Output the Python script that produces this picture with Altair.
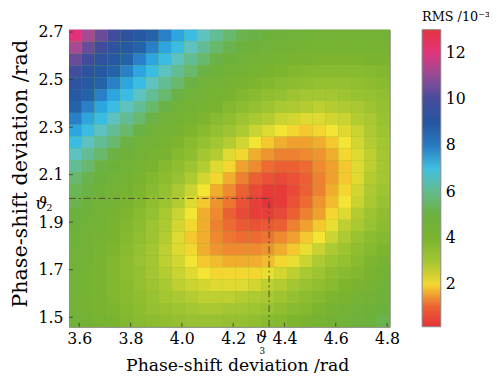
import altair as alt
import pandas as pd

# grid cells (lower / upper edges) in rad
x_lo = [3.56, 3.61, 3.66, 3.71, 3.76, 3.81, 3.86, 3.91, 3.96, 4.01, 4.06, 4.11, 4.16,
        4.21, 4.26, 4.31, 4.36, 4.41, 4.46, 4.51, 4.56, 4.61, 4.66, 4.71, 4.76]
x_hi = [3.61, 3.66, 3.71, 3.76, 3.81, 3.86, 3.91, 3.96, 4.01, 4.06, 4.11, 4.16, 4.21,
        4.26, 4.31, 4.36, 4.41, 4.46, 4.51, 4.56, 4.61, 4.66, 4.71, 4.76, 4.81]
y_lo = [1.46, 1.51, 1.56, 1.61, 1.66, 1.71, 1.76, 1.81, 1.86, 1.91, 1.96, 2.01, 2.06,
        2.11, 2.16, 2.21, 2.26, 2.31, 2.36, 2.41, 2.46, 2.51, 2.56, 2.61, 2.66]
y_hi = [1.51, 1.56, 1.61, 1.66, 1.71, 1.76, 1.81, 1.86, 1.91, 1.96, 2.01, 2.06, 2.11,
        2.16, 2.21, 2.26, 2.31, 2.36, 2.41, 2.46, 2.51, 2.56, 2.61, 2.66, 2.71]

# RMS (x10^-3), rows from top (y=2.71) to bottom (y=1.46)
rms_rows = [
    [12.2, 11.2, 10.5, 9.9, 9.3, 8.8, 8.4, 7.9, 7.5, 7.1, 6.6, 6.1, 5.6, 5.2, 5.1, 4.9, 4.8, 4.7, 4.6, 4.5, 4.5, 4.4, 4.4, 4.4, 4.5],
    [11.2, 10.5, 9.9, 9.3, 8.8, 8.4, 7.9, 7.5, 7.1, 6.6, 6.1, 5.6, 5.2, 5.0, 4.8, 4.7, 4.5, 4.4, 4.3, 4.2, 4.2, 4.2, 4.2, 4.2, 4.3],
    [10.5, 9.9, 9.3, 8.8, 8.4, 7.9, 7.5, 7.1, 6.6, 6.1, 5.6, 5.1, 4.9, 4.7, 4.5, 4.4, 4.2, 4.1, 4.0, 3.9, 3.9, 3.9, 3.9, 4.0, 4.0],
    [9.9, 9.3, 8.8, 8.4, 7.9, 7.5, 7.1, 6.6, 6.1, 5.6, 5.1, 4.8, 4.6, 4.4, 4.2, 4.1, 3.9, 3.8, 3.7, 3.6, 3.6, 3.6, 3.6, 3.7, 3.8],
    [9.3, 8.8, 8.4, 7.9, 7.5, 7.1, 6.6, 6.1, 5.6, 5.1, 4.7, 4.5, 4.3, 4.1, 3.9, 3.8, 3.6, 3.5, 3.4, 3.3, 3.3, 3.3, 3.4, 3.5, 3.6],
    [8.8, 8.4, 7.9, 7.5, 7.1, 6.6, 6.1, 5.6, 5.1, 4.7, 4.5, 4.2, 4.0, 3.8, 3.6, 3.4, 3.3, 3.1, 3.0, 3.0, 3.0, 3.1, 3.2, 3.3, 3.4],
    [8.4, 7.9, 7.5, 7.1, 6.6, 6.1, 5.6, 5.1, 4.7, 4.4, 4.2, 4.0, 3.7, 3.5, 3.3, 3.1, 2.9, 2.8, 2.7, 2.6, 2.7, 2.8, 2.9, 3.1, 3.3],
    [7.9, 7.5, 7.1, 6.6, 6.1, 5.6, 5.1, 4.7, 4.4, 4.2, 3.9, 3.6, 3.4, 3.1, 2.9, 2.7, 2.5, 2.4, 2.3, 2.3, 2.4, 2.5, 2.7, 2.9, 3.2],
    [7.5, 7.1, 6.6, 6.1, 5.6, 5.1, 4.7, 4.4, 4.2, 3.9, 3.6, 3.3, 3.1, 2.8, 2.5, 2.3, 2.1, 2.0, 1.9, 2.0, 2.1, 2.3, 2.5, 2.8, 3.1],
    [7.1, 6.6, 6.1, 5.6, 5.1, 4.7, 4.5, 4.2, 3.9, 3.6, 3.3, 3.0, 2.7, 2.4, 2.1, 1.9, 1.7, 1.6, 1.6, 1.7, 1.9, 2.1, 2.4, 2.7, 3.0],
    [6.6, 6.1, 5.6, 5.1, 4.8, 4.5, 4.3, 4.0, 3.7, 3.4, 3.0, 2.7, 2.3, 2.0, 1.7, 1.5, 1.3, 1.3, 1.4, 1.5, 1.7, 2.0, 2.3, 2.6, 3.0],
    [6.1, 5.6, 5.1, 4.9, 4.6, 4.3, 4.0, 3.7, 3.4, 3.1, 2.7, 2.3, 2.0, 1.6, 1.4, 1.1, 1.0, 1.0, 1.1, 1.4, 1.6, 1.9, 2.3, 2.6, 3.0],
    [5.6, 5.2, 5.0, 4.7, 4.4, 4.1, 3.8, 3.5, 3.2, 2.8, 2.4, 2.0, 1.7, 1.3, 1.0, 0.8, 0.7, 0.8, 1.0, 1.3, 1.6, 1.9, 2.3, 2.7, 3.0],
    [5.3, 5.1, 4.8, 4.5, 4.2, 3.9, 3.6, 3.3, 2.9, 2.5, 2.1, 1.7, 1.4, 1.0, 0.7, 0.4, 0.4, 0.7, 1.0, 1.3, 1.7, 2.0, 2.4, 2.8, 3.1],
    [5.2, 4.9, 4.6, 4.4, 4.1, 3.8, 3.4, 3.1, 2.7, 2.3, 1.9, 1.5, 1.2, 0.8, 0.5, 0.2, 0.4, 0.8, 1.1, 1.5, 1.8, 2.1, 2.5, 2.9, 3.2],
    [5.0, 4.8, 4.5, 4.2, 3.9, 3.6, 3.3, 2.9, 2.5, 2.1, 1.7, 1.4, 1.0, 0.7, 0.5, 0.5, 0.7, 1.0, 1.3, 1.6, 2.0, 2.3, 2.7, 3.1, 3.4],
    [4.9, 4.7, 4.4, 4.1, 3.8, 3.5, 3.1, 2.8, 2.4, 2.0, 1.7, 1.3, 1.1, 0.9, 0.8, 0.9, 1.0, 1.3, 1.6, 1.9, 2.2, 2.6, 2.9, 3.2, 3.5],
    [4.8, 4.5, 4.3, 4.0, 3.7, 3.4, 3.1, 2.7, 2.3, 1.9, 1.7, 1.4, 1.2, 1.1, 1.1, 1.2, 1.4, 1.6, 1.9, 2.1, 2.5, 2.8, 3.2, 3.5, 3.7],
    [4.7, 4.5, 4.2, 3.9, 3.6, 3.3, 3.0, 2.6, 2.3, 2.0, 1.7, 1.5, 1.4, 1.4, 1.4, 1.5, 1.7, 1.9, 2.2, 2.5, 2.8, 3.1, 3.4, 3.7, 3.9],
    [4.6, 4.4, 4.1, 3.8, 3.5, 3.2, 3.0, 2.6, 2.4, 2.1, 1.9, 1.8, 1.7, 1.7, 1.7, 1.8, 2.0, 2.2, 2.5, 2.8, 3.1, 3.3, 3.6, 3.9, 4.2],
    [4.6, 4.3, 4.1, 3.8, 3.5, 3.3, 3.0, 2.7, 2.5, 2.3, 2.1, 2.0, 2.0, 2.0, 2.0, 2.2, 2.4, 2.6, 2.9, 3.1, 3.4, 3.6, 3.8, 4.1, 4.4],
    [4.6, 4.3, 4.1, 3.8, 3.6, 3.3, 3.1, 2.9, 2.6, 2.5, 2.4, 2.3, 2.3, 2.3, 2.4, 2.6, 2.7, 3.0, 3.2, 3.4, 3.6, 3.9, 4.1, 4.3, 4.6],
    [4.5, 4.3, 4.1, 3.8, 3.6, 3.4, 3.2, 3.0, 2.9, 2.7, 2.6, 2.6, 2.6, 2.7, 2.8, 2.9, 3.1, 3.3, 3.5, 3.7, 3.9, 4.1, 4.3, 4.5, 4.8],
    [4.5, 4.3, 4.1, 3.9, 3.7, 3.5, 3.3, 3.2, 3.1, 3.0, 2.9, 2.9, 3.0, 3.0, 3.1, 3.2, 3.4, 3.6, 3.7, 3.9, 4.2, 4.4, 4.6, 4.8, 5.0],
    [4.6, 4.4, 4.2, 4.0, 3.8, 3.6, 3.5, 3.4, 3.3, 3.2, 3.2, 3.2, 3.3, 3.3, 3.4, 3.6, 3.7, 3.9, 4.0, 4.2, 4.4, 4.6, 4.8, 5.0, 5.2],
]

# colour bar stops (value -> colour)
cb_stops = [0.17, 0.6, 1.0, 1.6, 1.9, 2.1, 2.35, 2.7, 3.2, 4.0, 5.0, 5.6, 6.1, 6.6, 7.0,
            7.4, 7.9, 8.4, 9.0, 9.6, 10.1, 10.7, 11.3, 11.8, 12.2, 12.6, 13.0]
cb_colors = ["#e5323a", "#e8423a", "#ec5f33", "#f0a02e", "#f4c82e", "#f4e433", "#d8d830",
             "#b4cc32", "#98c232", "#7ab32f", "#6bb13e", "#68b86e", "#62bc95", "#5ec3c0",
             "#3fc0e0", "#2eb0e6", "#2a80c8", "#2462aa", "#2654a0", "#33509e", "#4a4b9b",
             "#7a4b98", "#b04a92", "#dc3a80", "#e4307a", "#e43055", "#e5323f"]
cb_ticks = [2, 4, 6, 8, 10, 12]

x_ticks = [3.6, 3.8, 4.0, 4.2, 4.4, 4.6, 4.8]
y_ticks = [1.5, 1.7, 1.9, 2.1, 2.3, 2.5, 2.7]
theta3_x = 4.34
theta2_y = 2.0

SERIF = "DejaVu Serif"
X_TITLE = "Phase-shift deviation /rad"
Y_TITLE = "Phase-shift deviation /rad"
W, H = 326, 302

n = len(y_lo)
records = []
for r, row in enumerate(rms_rows):
    j = n - 1 - r
    for i, val in enumerate(row):
        records.append({"x0": x_lo[i], "x1": x_hi[i], "y0": y_lo[j], "y1": y_hi[j], "rms": val})
df = pd.DataFrame(records)

xs = alt.Scale(domain=[x_lo[0], x_hi[-1]], nice=False, zero=False)
ys = alt.Scale(domain=[y_lo[0], y_hi[-1]], nice=False, zero=False)
cs = alt.Scale(domain=cb_stops, range=cb_colors, interpolate="rgb")

x_axis = alt.Axis(values=x_ticks, format=".1f", labelFont=SERIF, labelFontSize=16,
                  labelColor="black", labelPadding=4, labelFlush=False,
                  titleFont=SERIF, titleFontSize=17.5, titleFontWeight="normal",
                  titleColor="black", titleX=171, titleY=44, titleBaseline="alphabetic",
                  ticks=False, domain=False, grid=False)
y_axis = alt.Axis(values=y_ticks, format=".1f", labelFont=SERIF, labelFontSize=16,
                  labelColor="black", labelPadding=6, labelFlush=False,
                  titleFont=SERIF, titleFontSize=21, titleFontWeight="normal",
                  titleColor="black", titleX=-43, titleY=146, titleBaseline="alphabetic",
                  ticks=False, domain=False, grid=False)

legend = alt.Legend(title="RMS /10⁻³", type="gradient", orient="none", legendX=359,
                    legendY=-19, direction="vertical", gradientLength=H,
                    gradientThickness=19, values=cb_ticks, format="d", labelFont=SERIF,
                    labelFontSize=16, labelColor="black", labelOffset=5, titleFont=SERIF,
                    titleFontSize=13, titleFontWeight="normal", titleColor="black",
                    titlePadding=6, gradientStrokeColor="#888888", gradientStrokeWidth=1,
                    titleLimit=200, padding=0)

heat = alt.Chart(df).mark_rect().encode(
    x=alt.X("x0:Q", scale=xs, axis=x_axis, title=X_TITLE),
    x2="x1:Q",
    y=alt.Y("y0:Q", scale=ys, axis=y_axis, title=Y_TITLE),
    y2="y1:Q",
    fill=alt.Fill("rms:Q", scale=cs, legend=legend),
)

dash = [7, 3, 2, 3]
hline = alt.Chart(pd.DataFrame({"xa": [x_lo[0]], "xb": [theta3_x], "ya": [theta2_y]})).mark_rule(
    color="#4d4d3a", strokeWidth=1, strokeDash=dash).encode(
    x=alt.X("xa:Q", scale=xs, title=X_TITLE), x2="xb:Q",
    y=alt.Y("ya:Q", scale=ys, title=Y_TITLE))
vline = alt.Chart(pd.DataFrame({"xa": [theta3_x], "ya": [y_lo[0]], "yb": [theta2_y]})).mark_rule(
    color="#4d4d3a", strokeWidth=1, strokeDash=dash).encode(
    x=alt.X("xa:Q", scale=xs, title=X_TITLE),
    y=alt.Y("ya:Q", scale=ys, title=Y_TITLE), y2="yb:Q")

xt = alt.Chart(pd.DataFrame({"t": x_ticks})).mark_rule(color="#333333", strokeWidth=1, opacity=0.8).encode(
    x=alt.X("t:Q", scale=xs, title=X_TITLE), y=alt.value(H), y2=alt.value(H - 4))
yt = alt.Chart(pd.DataFrame({"t": y_ticks})).mark_rule(color="#333333", strokeWidth=1, opacity=0.8).encode(
    y=alt.Y("t:Q", scale=ys, title=Y_TITLE), x=alt.value(0), x2=alt.value(4))

lab2 = alt.Chart(pd.DataFrame({"ya": [theta2_y], "s": ["ϑ"]})).mark_text(
    font=SERIF, fontStyle="italic", fontSize=17, color="black", align="right",
    baseline="alphabetic", dy=11).encode(
    x=alt.value(-22), y=alt.Y("ya:Q", scale=ys, title=Y_TITLE), text="s:N")
lab2s = alt.Chart(pd.DataFrame({"ya": [theta2_y], "s": ["2"]})).mark_text(
    font=SERIF, fontSize=10, color="black", align="left", baseline="alphabetic", dy=13).encode(
    x=alt.value(-23), y=alt.Y("ya:Q", scale=ys, title=Y_TITLE), text="s:N")
lab3 = alt.Chart(pd.DataFrame({"xa": [theta3_x], "s": ["ϑ"]})).mark_text(
    font=SERIF, fontStyle="italic", fontSize=16, color="black", align="right",
    baseline="alphabetic", dx=-2).encode(
    x=alt.X("xa:Q", scale=xs, title=X_TITLE), y=alt.value(H + 17), text="s:N")
lab3s = alt.Chart(pd.DataFrame({"xa": [theta3_x], "s": ["3"]})).mark_text(
    font=SERIF, fontSize=9, color="black", align="center", baseline="alphabetic", dx=-7).encode(
    x=alt.X("xa:Q", scale=xs, title=X_TITLE), y=alt.value(H + 28), text="s:N")

chart = alt.layer(heat, hline, vline, xt, yt, lab2, lab2s, lab3, lab3s).properties(
    width=W, height=H,
    autosize=alt.AutoSizeParams(type="none"),
    padding={"left": 62, "top": 19, "right": 101, "bottom": 46},
    background="white",
).configure_view(stroke="#777777", strokeWidth=1, fill="#86ba32")

chart.save("out.html", embed_options={"renderer": "svg", "actions": False})
